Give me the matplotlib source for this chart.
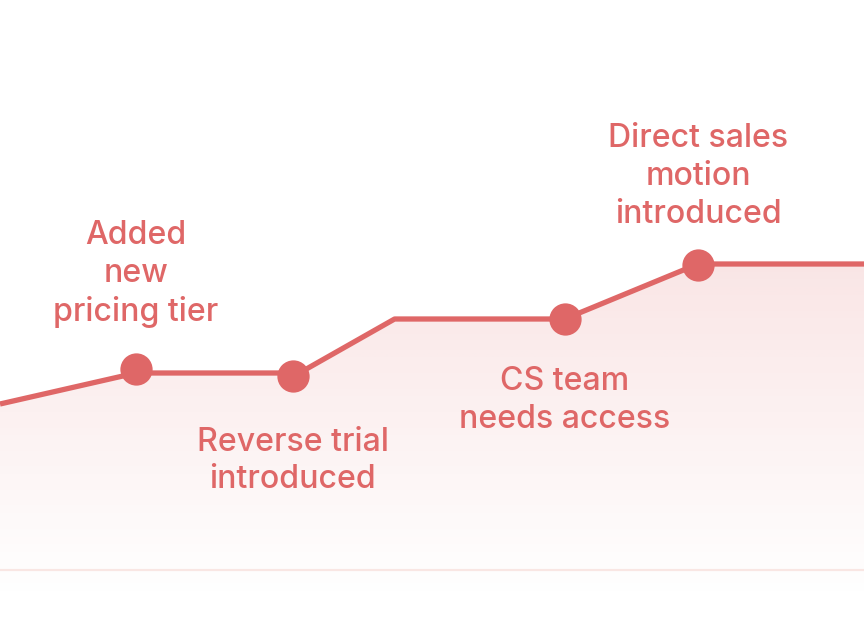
import matplotlib.pyplot as plt
import numpy as np
from matplotlib.colors import to_rgb

# data
x_line = [0, 1.0, 2.2, 2.9, 4.15, 5.13, 6.35]
y_line = [16.6, 19.7, 19.7, 25.1, 25.1, 30.6, 30.6]

x_events = [1.0, 2.15, 4.15, 5.13]
y_events = [20.1, 19.4, 25.1, 30.5]
event_labels = ["Added\nnew\npricing tier", "Reverse trial\nintroduced",
                "CS team\nneeds access", "Direct sales\nmotion\nintroduced"]
# label offset from the marker, in points (positive = up)
label_dy = [68.3, -61.2, -58.7, 63.6]

red = "#df6767"

fig = plt.figure(figsize=(8.64, 6.3), dpi=100)
ax = fig.add_axes([0, 0, 1, 1])
ax.set_xlim(0, 6.35)
ax.set_ylim(-6, 57)
ax.axis("off")

# gradient fill under the line
r, g, b = to_rgb(red)
grad = np.zeros((200, 2, 4))
alphas = np.linspace(0.17, 0.0, 200)
grad[:, :, 0] = r
grad[:, :, 1] = g
grad[:, :, 2] = b
grad[:, :, 3] = alphas[:, None]
im = ax.imshow(grad, extent=[0, 6.35, -3, 31], origin="upper", aspect="auto", zorder=1)
poly = ax.fill_between(x_line, y_line, -3, color="none")
im.set_clip_path(poly.get_paths()[0], transform=ax.transData)

ax.axhline(0, color="#f9e6e3", lw=1.6, zorder=2)

ax.plot(x_line, y_line, color=red, lw=3.8, zorder=3, solid_capstyle="butt")
ax.scatter(x_events, y_events, s=540, color=red, zorder=4, linewidths=0)

for xe, ye, lab, dy in zip(x_events, y_events, event_labels, label_dy):
    ax.annotate(lab, (xe, ye), xytext=(0, dy), textcoords="offset points",
                ha="center", va="center", color=red, fontsize=23.1,
                family="Inter", fontweight="medium", linespacing=1.28)

fig.savefig("out.png", dpi=100)
